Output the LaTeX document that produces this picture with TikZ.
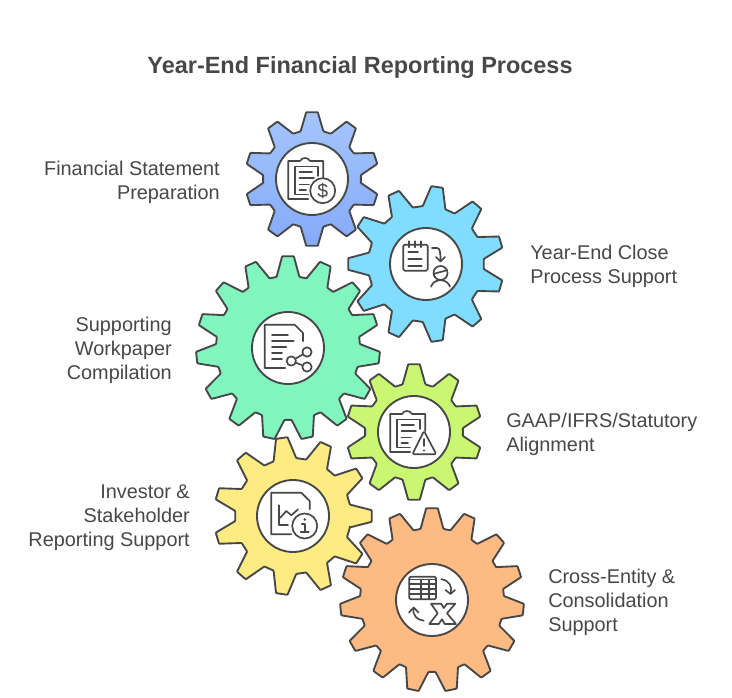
\documentclass[tikz,border=0pt]{standalone}
\usepackage{fontspec}
\setmainfont{Liberation Sans}
\usetikzlibrary{positioning}
\definecolor{ink}{HTML}{474747}
\definecolor{blue1}{HTML}{A5C5FD}
\definecolor{blue2}{HTML}{84AAF9}
\definecolor{cyan1}{HTML}{80DDFF}
\definecolor{green1}{HTML}{80F5BE}
\definecolor{lime1}{HTML}{CAF772}
\definecolor{yellow1}{HTML}{FEEB82}
\definecolor{orange1}{HTML}{FDBB83}
\tikzset{gearline/.style={draw=ink,line width=1.4pt,rounded corners=0.5pt,line join=round}}
\tikzset{hole/.style={draw=ink,circle,fill=white,line width=1.4pt,inner sep=0pt,minimum size=54pt}}
\tikzset{icon/.style={draw=ink,line width=1.25pt,line cap=round,line join=round}}
\tikzset{side/.style={text=ink,inner sep=0pt,font=\fontsize{14.9}{18}\selectfont}}
% #1 x, #2 y, #3 tip radius, #4 root radius, #5 teeth, #6 phase, #7 fill
\newcommand{\drawgear}[7]{
  \pgfmathsetmacro\st{360/#5}
  \pgfmathsetmacro\tipa{deg(5.8/#3)}
  \pgfmathsetmacro\basa{deg(11.5/#4)}
  \draw[gearline,#7,shift={(#1,#2)}] ({#6-\basa}:#4)
    \foreach \k in {1,...,#5} {
      -- ({#6+(\k-1)*\st-\basa}:#4) -- ({#6+(\k-1)*\st-\tipa}:#3)
      -- ({#6+(\k-1)*\st+\tipa}:#3) -- ({#6+(\k-1)*\st+\basa}:#4)
    } -- cycle;
}
% clipboard shared by two of the icons
\newcommand{\clipicon}{
  \draw[icon] (-3.7,-20) -- (-23.7,-20) -- (-23.7,18) -- (-12,18)
    .. controls (-10,22) and (-4,22) .. (-2,18) -- (11.3,18) -- (11.3,1);
  \draw[icon] (-4,-15.5) -- (-17,-15.5) -- (-17,12.5) -- (6.3,12.5) -- (6.3,3);
  \draw[icon] (-12.5,7) -- (0,7);
  \draw[icon] (-12.5,0.7) -- (2,0.7);
  \draw[icon] (-12.5,-5.6) -- (-3,-5.6);
  \draw[icon] (-12.5,-11) -- (-6,-11);
}
\begin{document}
\begin{tikzpicture}[x=0.75pt,y=0.75pt]
\useasboundingbox (0,0) rectangle (732,-698);
\node[text=ink,font=\bfseries\fontsize{17.6}{22}\selectfont] (title) at (360,-67) {Year-End Financial Reporting Process};

\drawgear{312}{-179}{67}{49}{10}{90}{top color=blue1,bottom color=blue2}
\drawgear{426}{-264}{78}{58}{11}{180}{fill=cyan1}
\drawgear{288}{-348}{92}{72}{15}{90}{fill=green1}
\drawgear{414}{-432}{68}{49}{10}{90}{fill=lime1}
\drawgear{293}{-516}{79}{58}{11}{0}{fill=yellow1}
\drawgear{432}{-600}{92}{72}{15}{90}{fill=orange1}

\node[hole] (finance) at (312,-179) {};
\node[hole] (close) at (426,-264) {};
\node[hole] (workpaper) at (288,-348) {};
\node[hole] (gaap) at (414,-432) {};
\node[hole] (investor) at (293,-516) {};
\node[hole] (entity) at (432,-600) {};

\node[side,align=right,anchor=east] (financetext) at (220,-182) {Financial Statement\\Preparation};
\node[side,align=left,anchor=west] (closetext) at (530,-266) {Year-End Close\\Process Support};
\node[side,align=right,anchor=east] (workpapertext) at (172,-350) {Supporting\\Workpaper\\Compilation};
\node[side,align=left,anchor=west] (gaaptext) at (506,-434) {GAAP/IFRS/Statutory\\Alignment};
\node[side,align=right,anchor=east] (investortext) at (190,-518) {Investor \&\\Stakeholder\\Reporting Support};
\node[side,align=left,anchor=west] (entitytext) at (548,-602) {Cross-Entity \&\\Consolidation\\Support};

\begin{scope}[shift={(312,-179)}]
  \clipicon
  \draw[icon] (10.7,-11.7) circle (12.5);
  \node[text=ink,font=\fontsize{14.5}{15}\selectfont] (dollar) at (10.7,-11.7) {\$};
\end{scope}

\begin{scope}[shift={(426,-264)}]
  \draw[icon,rounded corners=1pt] (-22.7,19.3) rectangle (1.7,-6.7);
  \foreach \x in {-16.7,-10.7,-5} \draw[icon] (\x,22.7) -- (\x,16.7);
  \draw[icon] (-17.7,11.7) -- (-8,11.7);
  \draw[icon] (-17.7,4.7) -- (-4.3,4.7);
  \draw[icon] (-17.7,-2) -- (-4.3,-2);
  \draw[icon] (6,16) -- (11,16) .. controls (14,16) and (14.5,12) .. (14.5,3);
  \draw[icon] (10,7) -- (14.5,2.5) -- (19,7);
  \draw[icon] (14.5,-9) circle (7);
  \draw[icon] (8,-10) .. controls (12,-8) and (17,-8) .. (21,-6);
  \draw[icon] (5,-22.7) .. controls (8,-14) and (21,-14) .. (24,-22.7);
\end{scope}

\begin{scope}[shift={(288,-348)}]
  \draw[icon] (-2.7,-20) -- (-23.3,-20) -- (-23.3,23.3) -- (6.7,23.3) -- (15,15) -- (15,6.7);
  \draw[icon] (-16,13) -- (0,13);
  \draw[icon] (-16,7) -- (5.7,7);
  \draw[icon] (-16,1) -- (-1.7,1);
  \draw[icon] (-16,-5) -- (-6,-5);
  \draw[icon] (-16,-11) -- (-6,-11);
  \node[icon,circle,inner sep=0pt,minimum size=7pt] (hub) at (3.3,-13) {};
  \node[icon,circle,inner sep=0pt,minimum size=7pt] (leafa) at (19,-4) {};
  \node[icon,circle,inner sep=0pt,minimum size=7pt] (leafb) at (19,-19) {};
  \draw[icon] (hub) -- (leafa);
  \draw[icon] (hub) -- (leafb);
\end{scope}

\begin{scope}[shift={(414,-432)}]
  \clipicon
  \draw[icon,rounded corners=1.5pt,fill=white] (10,1) -- (-1.7,-22.3) -- (22.3,-22.3) -- cycle;
  \draw[icon] (10,-7) -- (10,-14);
  \fill[ink] (10,-18.5) circle (1.2);
\end{scope}

\begin{scope}[shift={(293,-516)}]
  \draw[icon] (-1.7,-18.3) -- (-21.7,-18.3) -- (-21.7,23.3) -- (8.3,23.3) -- (16.7,15) -- (16.7,6.7);
  \draw[icon] (-14,10.7) -- (-14,-9.3) -- (-5,-9.3);
  \draw[icon] (-12.7,-1.7) -- (-6.7,5) -- (-1.7,0.7) -- (5,6.7);
  \draw[icon] (11.7,-10) circle (12.5);
  \fill[ink] (11.7,-3.5) circle (1.3);
  \draw[icon] (8.7,-8) -- (11.7,-8) -- (11.7,-16);
  \draw[icon] (7.7,-16) -- (15.7,-16);
\end{scope}

\begin{scope}[shift={(432,-600)}]
  \draw[icon,rounded corners=1pt] (-22.7,23.3) rectangle (4,0.7);
  \draw[icon] (-22.7,20.5) -- (4,20.5);
  \foreach \y in {16,10.7,5.7} \draw[icon] (-22.7,\y) -- (4,\y);
  \foreach \x in {-10.7,-3.3} \draw[icon] (\x,20.5) -- (\x,0.7);
  \draw[icon] (9.3,20.7) .. controls (17,20) and (21,13) .. (18.5,6.5);
  \draw[icon] (13.5,10) -- (18.5,6) -- (23,10);
  \draw[icon] (-8.3,-20.7) .. controls (-15,-20) and (-20,-15) .. (-18.3,-8);
  \draw[icon] (-23,-12.5) -- (-18.3,-7.5) -- (-13.5,-12.5);
  \draw[icon] (-1,-3.7) -- (9.3,-3.7) -- (11.7,-8) -- (15,-3.7) -- (23.3,-3.7) -- (15,-13.3)
    -- (24,-24) -- (12.7,-24) -- (10,-19.3) -- (6.7,-24) -- (-2.7,-24) -- (5.7,-13.3) -- cycle;
\end{scope}
\end{tikzpicture}
\end{document}
